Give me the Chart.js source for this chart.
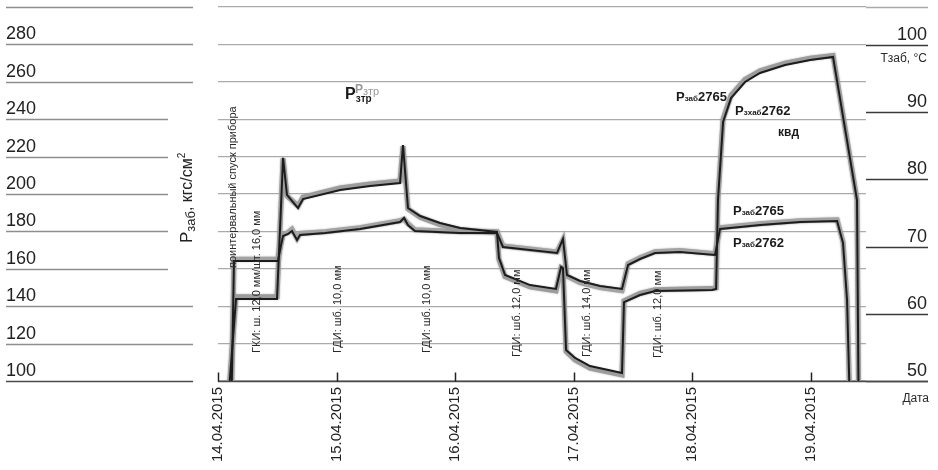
<!DOCTYPE html>
<html>
<head>
<meta charset="utf-8">
<script src="https://cdn.jsdelivr.net/npm/chart.js@4.4.1/dist/chart.umd.min.js"></script>
<style>
  html, body { margin: 0; padding: 0; background: #fff; }
  #wrap { width: 938px; height: 470px; }
</style>
</head>
<body>
<div id="wrap"><canvas id="c" width="938" height="470"></canvas></div>
<script>
// Time axis: days elapsed since 14.04.2015 00:00
const dateLabels = ['14.04.2015', '15.04.2015', '16.04.2015', '17.04.2015', '18.04.2015', '19.04.2015'];
const pressureTicks = [100, 120, 140, 160, 180, 200, 220, 240, 260, 280, 300];
const tempTicks = [50, 60, 70, 80, 90, 100];

// Bottom-hole pressure, кгс/см² (gauges 2765 and 2762)
const presDays = [0.093, 0.152, 0.498, 0.549, 0.582, 0.675, 0.717, 1.030, 1.283, 1.536, 1.561, 1.603, 1.705, 1.873, 2.042, 2.354, 2.371, 2.422, 2.633, 2.852, 2.895, 2.911, 2.937, 3.013, 3.139, 3.409, 3.426, 3.561, 3.688, 4.169, 4.203, 4.219, 4.262, 4.329, 4.447, 4.574, 4.785, 4.996, 5.190, 5.392, 5.405];
const pres2765 = [95, 143.9, 143.9, 219.3, 199.5, 192.5, 197.3, 202.1, 204.3, 205.9, 226.2, 192.5, 188.2, 184.5, 181.8, 179.7, 165.8, 156.7, 151.3, 149.2, 161.0, 160.4, 116.6, 112.3, 108.0, 104.3, 142.2, 146.0, 148.1, 148.7, 149.2, 196.8, 238.5, 251.3, 259.9, 264.7, 269.0, 271.7, 273.3, 196.8, 94.6];
const pres2762 = [95, 145.0, 145.0, 219.0, 199.0, 193.5, 198.3, 203.2, 205.4, 207.0, 225.5, 192.0, 187.6, 183.6, 181.0, 179.3, 165.0, 155.8, 150.3, 148.2, 160.6, 160.0, 115.8, 111.3, 106.9, 103.3, 142.8, 146.8, 148.8, 149.4, 149.8, 197.5, 240.0, 252.8, 261.2, 265.9, 270.0, 272.6, 274.1, 197.0, 94.6];

// Bottom-hole temperature, °C (gauges 2765 and 2762)
const tempDays = [0.115, 0.135, 0.506, 0.532, 0.549, 0.591, 0.624, 0.667, 0.692, 0.903, 1.198, 1.536, 1.570, 1.603, 1.662, 2.042, 2.354, 2.405, 2.861, 2.911, 2.945, 3.055, 3.224, 3.409, 3.460, 3.561, 3.688, 3.899, 4.194, 4.236, 4.405, 4.574, 4.911, 5.224, 5.274, 5.308, 5.329];
const temp2765 = [48.5, 67.86, 67.86, 70.24, 71.58, 71.88, 72.32, 70.98, 71.73, 72.02, 72.62, 73.66, 74.26, 73.21, 72.32, 72.02, 72.02, 69.94, 69.05, 71.13, 65.77, 64.88, 64.14, 63.69, 67.26, 68.15, 69.05, 69.20, 68.75, 72.62, 72.92, 73.21, 73.66, 73.81, 70.54, 62.05, 48.5];
const temp2762 = [48.5, 68.1, 68.1, 70.4, 71.8, 72.1, 72.6, 71.2, 71.95, 72.2, 72.8, 73.85, 74.1, 73.4, 72.5, 72.2, 72.2, 70.1, 69.2, 71.0, 65.6, 64.65, 63.9, 63.45, 67.45, 68.35, 69.25, 69.4, 68.95, 72.8, 73.1, 73.4, 73.85, 74.0, 70.7, 62.2, 48.5];

// Operation notes along the time axis: [text, day, pressure at the text start]
const opNotes = [
  ['поинтервальный спуск прибора', 0.127, 160.4],
  ['ГКИ: ш. 12,0 мм/шт. 16,0 мм', 0.329, 115.0],
  ['ГДИ: шб. 10,0 мм', 1.013, 115.0],
  ['ГДИ: шб. 10,0 мм', 1.764, 115.0],
  ['ГДИ: шб. 12,0 мм', 2.523, 112.8],
  ['ГДИ: шб. 14,0 мм', 3.114, 112.8],
  ['ГДИ: шб. 12,0 мм', 3.713, 112.3]
];

// Curve captions: [main, sub, tail, day, pressure]
const captions = [
  ['Р', 'заб', '2765', 3.865, 249.7],
  ['Р', 'зхаб', '2762', 4.363, 242.2],
  ['Р', 'заб', '2765', 4.346, 188.8],
  ['Р', 'заб', '2762', 4.346, 171.7]
];

const pts = (xs, ys) => xs.map((x, i) => ({ x: x, y: ys[i] }));

const FONT = '"Liberation Sans", Arial, sans-serif';
Chart.defaults.font.family = FONT;
Chart.defaults.color = '#222';

function richText(ctx, x, y, parts) {
  let cx = x;
  for (const p of parts) {
    ctx.font = p.font;
    ctx.fillStyle = p.color || '#1a1a1a';
    ctx.fillText(p.t, cx, y + (p.dy || 0));
    cx += ctx.measureText(p.t).width;
  }
}

// soft edge for the wide gray gauge traces
const haze = {
  id: 'haze',
  beforeDatasetDraw(chart, args) {
    if (args.meta.dataset && args.meta.dataset.options.borderWidth > 3) {
      chart.ctx.save();
      chart.ctx.shadowColor = 'rgba(120,120,120,0.6)';
      chart.ctx.shadowBlur = 2;
    }
  },
  afterDatasetDraw(chart, args) {
    if (args.meta.dataset && args.meta.dataset.options.borderWidth > 3) chart.ctx.restore();
  }
};

const decor = {
  id: 'decor',
  beforeDatasetsDraw(chart) {
    const ctx = chart.ctx, a = chart.chartArea;
    const ys = chart.scales.y, y2 = chart.scales.y2, xs = chart.scales.x;
    ctx.save();
    // left-hand reference lines under the pressure labels
    pressureTicks.forEach(v => {
      const py = Math.round(ys.getPixelForValue(v)) + 0.5;
      const end = (v >= 160 && v <= 240) ? 168 : 193;
      ctx.beginPath();
      ctx.strokeStyle = v === 100 ? '#4a4a4a' : '#8e8e8e';
      ctx.lineWidth = v === 100 ? 1.6 : 1.3;
      ctx.moveTo(6, py); ctx.lineTo(end, py); ctx.stroke();
    });
    // top grid line continues to the right edge
    const topY = Math.round(ys.getPixelForValue(300)) + 0.5;
    ctx.beginPath(); ctx.strokeStyle = '#a9a9a9'; ctx.lineWidth = 1.3;
    ctx.moveTo(a.right, topY); ctx.lineTo(928, topY); ctx.stroke();
    // underlines of temperature labels
    tempTicks.forEach(v => {
      const py = Math.round(y2.getPixelForValue(v)) + 0.5;
      ctx.beginPath(); ctx.strokeStyle = '#3a3a3a'; ctx.lineWidth = 1.5;
      ctx.moveTo(866, py); ctx.lineTo(928, py); ctx.stroke();
    });
    // time axis line and tick marks
    const by = Math.round(a.bottom) + 0.5;
    ctx.beginPath(); ctx.strokeStyle = '#4a4a4a'; ctx.lineWidth = 1.6;
    ctx.moveTo(a.left, by); ctx.lineTo(928, by); ctx.stroke();
    dateLabels.forEach((_, i) => {
      const px = Math.round(xs.getPixelForValue(i)) + 0.5;
      ctx.beginPath(); ctx.strokeStyle = '#222'; ctx.lineWidth = 1.5;
      ctx.moveTo(px, by); ctx.lineTo(px, by - 9); ctx.stroke();
    });
    ctx.restore();
  },
  afterDatasetsDraw(chart) {
    const ctx = chart.ctx;
    const ys = chart.scales.y, y2 = chart.scales.y2, xs = chart.scales.x;
    ctx.save();
    ctx.textBaseline = 'alphabetic';
    // vertical operation notes
    ctx.font = '11px ' + FONT;
    ctx.fillStyle = '#2a2a2a';
    opNotes.forEach(([t, d, p]) => {
      ctx.save();
      ctx.translate(xs.getPixelForValue(d), ys.getPixelForValue(p));
      ctx.rotate(-Math.PI / 2);
      ctx.textAlign = 'left';
      ctx.textBaseline = 'middle';
      ctx.fillText(t, 0, 0);
      ctx.restore();
    });
    ctx.textAlign = 'left';
    ctx.textBaseline = 'alphabetic';
    // Pзтр caption (doubled)
    const zx = xs.getPixelForValue(1.156), zy = ys.getPixelForValue(254.0);
    richText(ctx, zx, zy, [
      { t: 'Р', font: 'bold 12px ' + FONT, color: '#9a9a9a' },
      { t: 'зтр', font: '11px ' + FONT, color: '#9a9a9a', dy: 2 }
    ]);
    const px0 = xs.getPixelForValue(1.072), py0 = ys.getPixelForValue(250.8);
    richText(ctx, px0, py0, [
      { t: 'Р', font: 'bold 16px ' + FONT },
      { t: 'зтр', font: 'bold 10px ' + FONT, dy: 3 }
    ]);
    // gauge captions
    captions.forEach(([m, s, tail, d, p]) => {
      richText(ctx, xs.getPixelForValue(d), ys.getPixelForValue(p), [
        { t: m, font: 'bold 13px ' + FONT },
        { t: s, font: 'bold 8px ' + FONT, dy: 0 },
        { t: tail, font: 'bold 13px ' + FONT }
      ]);
    });
    ctx.font = 'bold 12px ' + FONT;
    ctx.fillStyle = '#1a1a1a';
    ctx.fillText('квд', xs.getPixelForValue(4.726), ys.getPixelForValue(231.0));
    // axis captions
    ctx.font = '12px ' + FONT;
    ctx.fillStyle = '#2a2a2a';
    ctx.textAlign = 'right';
    ctx.fillText('Тзаб, °С', 927, y2.getPixelForValue(100) + 17);
    ctx.fillText('Дата', 929, 402);
    // pressure axis title
    ctx.save();
    ctx.translate(192, ys.getPixelForValue(173.8));
    ctx.rotate(-Math.PI / 2);
    ctx.textAlign = 'left';
    richText(ctx, 0, 0, [
      { t: 'Р', font: '17px ' + FONT, color: '#222' },
      { t: 'заб', font: '13px ' + FONT, color: '#222', dy: 3 },
      { t: ', кгс/см', font: '16px ' + FONT, color: '#222' },
      { t: '2', font: '10px ' + FONT, color: '#222', dy: -7 }
    ]);
    ctx.restore();
    ctx.restore();
  }
};

const fixTicks = list => s => { s.ticks = list.map(v => ({ value: v })); };

new Chart(document.getElementById('c'), {
  type: 'line',
  data: {
    datasets: [
      { label: 'Рзаб 2765', data: pts(presDays, pres2765), yAxisID: 'y', borderColor: '#1c1c1c', borderWidth: 2, order: 0 },
      { label: 'Тзаб 2765', data: pts(tempDays, temp2765), yAxisID: 'y2', borderColor: '#1c1c1c', borderWidth: 2, order: 0 },
      { label: 'Рзаб 2762', data: pts(presDays, pres2762), yAxisID: 'y', borderColor: '#9c9c9c', borderWidth: 5, order: 1 },
      { label: 'Тзаб 2762', data: pts(tempDays, temp2762), yAxisID: 'y2', borderColor: '#a3a3a3', borderWidth: 5, order: 1 }
    ]
  },
  options: {
    responsive: false,
    animation: false,
    devicePixelRatio: 1,
    layout: { padding: { left: 6, right: 11, top: 7, bottom: 0 } },
    elements: { point: { radius: 0 }, line: { tension: 0, borderJoinStyle: 'miter', fill: false } },
    plugins: { legend: { display: false }, tooltip: { enabled: false } },
    scales: {
      x: {
        type: 'linear', min: 0, max: 5.468,
        afterBuildTicks: fixTicks([0, 1, 2, 3, 4, 5]),
        ticks: {
          callback: v => dateLabels[v] || '',
          minRotation: 90, maxRotation: 90, autoSkip: false,
          font: { size: 15 }, color: '#222', padding: 6
        },
        grid: { display: false, drawTicks: false },
        border: { display: false },
        afterFit: s => { s.height = 89; s.paddingLeft = 0; s.paddingRight = 0; }
      },
      y: {
        position: 'left', min: 100, max: 300,
        afterBuildTicks: fixTicks(pressureTicks),
        ticks: {
          callback: v => (v === 300 ? '' : String(v)),
          crossAlign: 'far', labelOffset: -10,
          font: { size: 18 }, color: '#222'
        },
        grid: { color: '#ababab', lineWidth: 1.3, drawTicks: false },
        border: { display: false },
        afterFit: s => { s.width = 212; s.paddingTop = 0; s.paddingBottom = 0; }
      },
      y2: {
        position: 'right', min: 50, max: 105.65,
        afterBuildTicks: fixTicks(tempTicks),
        ticks: {
          crossAlign: 'far', labelOffset: -10,
          font: { size: 18 }, color: '#222'
        },
        grid: { display: false, drawTicks: false },
        border: { display: false },
        afterFit: s => { s.width = 61; s.paddingTop = 0; s.paddingBottom = 0; }
      }
    }
  },
  plugins: [haze, decor]
});
</script>
</body>
</html>
